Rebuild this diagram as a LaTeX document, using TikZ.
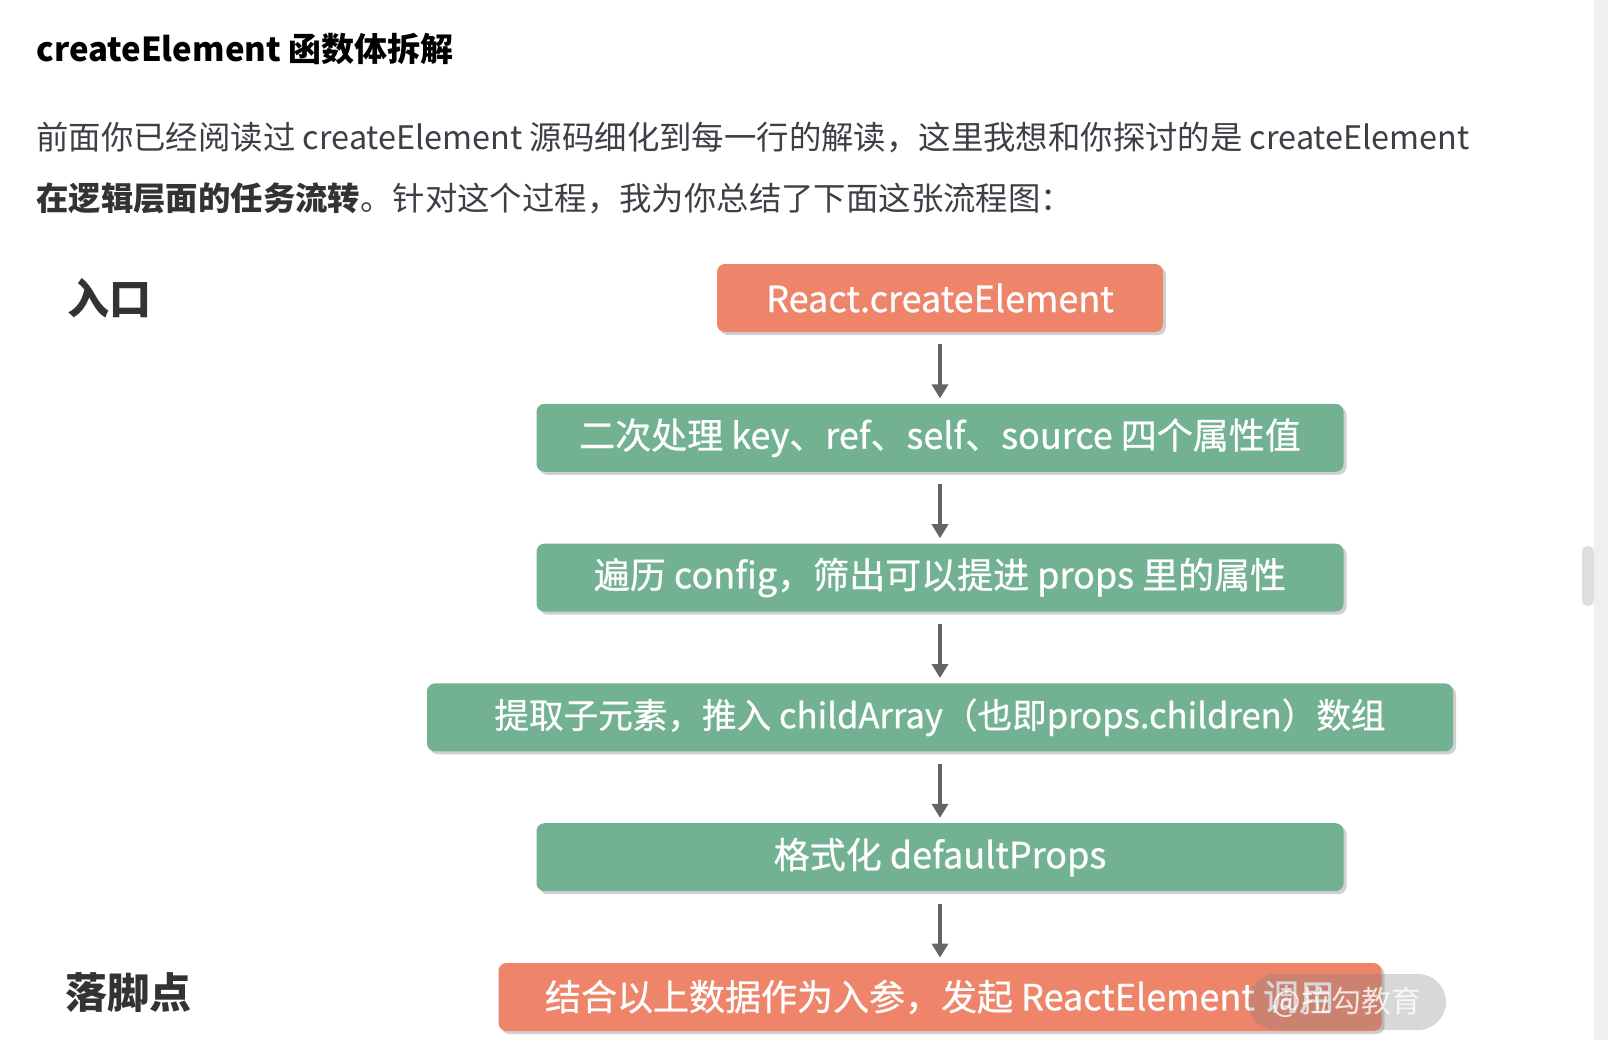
\documentclass[tikz,border=0pt]{standalone}
\usepackage{fontspec}
\setmainfont{Noto Sans CJK SC}
\newfontfamily\boxfont[FakeBold=0.7]{Noto Sans CJK SC}
\usepackage{tikz}
\usetikzlibrary{arrows.meta, positioning, shadows}
\definecolor{boxred}{RGB}{238,132,106}
\definecolor{boxgreen}{RGB}{114,178,146}
\definecolor{arrowgray}{RGB}{100,100,100}
\definecolor{textdark}{RGB}{51,51,51}
\definecolor{paratext}{RGB}{60,64,70}
\definecolor{bargray}{RGB}{239,239,239}
\definecolor{thumbgray}{RGB}{222,222,222}
\tikzset{
  block/.style={rectangle, fill=boxgreen, text=white,
    minimum height=34pt, inner sep=0pt, rounded corners=4pt,
    font=\boxfont\fontsize{18}{20}\selectfont,
    drop shadow={shadow xshift=1.5pt, shadow yshift=-1.5pt, opacity=0.3, fill=black!60}},
  redblock/.style={block, fill=boxred},
  arrow/.style={-{Triangle[width=8pt,length=7pt]}, line width=2pt,
    color=arrowgray, shorten <=6pt, shorten >=2.5pt},
  sidelabel/.style={anchor=west, inner sep=0pt,
    font=\fontsize{21}{24}\selectfont\bfseries, text=textdark},
  paraline/.style={anchor=west, inner sep=0pt,
    font=\fontsize{16.2}{18}\selectfont, text=paratext},
  watermark/.style={rectangle, rounded corners=14pt, fill=black!50,
    fill opacity=0.3, text=white, text opacity=0.8,
    minimum width=99pt, minimum height=28pt, inner sep=0pt,
    font=\fontsize{15}{16}\selectfont}
}

\begin{document}
\begin{tikzpicture}[x=0.5pt, y=-0.5pt]
  % page
  \fill[white] (0,0) rectangle (1608,1040);
  \useasboundingbox (0,0) rectangle (1608,1040);

  % heading and text
  \node[anchor=west, inner sep=0pt, font=\fontsize{16.5}{18}\selectfont\bfseries] (title) at (36,49) {createElement 函数体拆解};
  \node[paraline] (para1) at (36,138) {前面你已经阅读过 createElement 源码细化到每一行的解读，这里我想和你探讨的是 createElement};
  \node[paraline] (para2) at (36,198) {{\bfseries\color{textdark}在逻辑层面的任务流转}。针对这个过程，我为你总结了下面这张流程图：};

  % flow
  \node[redblock, minimum width=223pt] (create) at (940,298) {React.createElement};
  \node[block, minimum width=403.5pt, below=35.5pt of create] (keys) {二次处理 key、ref、self、source 四个属性值};
  \node[block, minimum width=403.5pt, below=35.5pt of keys] (config) {遍历 config，筛出可以提进 props 里的属性};
  \node[block, minimum width=513pt, below=35.5pt of config, font=\boxfont\fontsize{17.3}{20}\selectfont] (children) {提取子元素，推入 childArray（也即props.children）数组};
  \node[block, minimum width=403.5pt, below=35.5pt of children] (defaults) {格式化 defaultProps};
  \node[redblock, minimum width=441.5pt, below=35.5pt of defaults] (call) {结合以上数据作为入参，发起 ReactElement 调用};

  \draw[arrow] (create) -- (keys);
  \draw[arrow] (keys) -- (config);
  \draw[arrow] (config) -- (children);
  \draw[arrow] (children) -- (defaults);
  \draw[arrow] (defaults) -- (call);

  % side labels
  \node[sidelabel] (entry) at (67,298) {入口};
  \node[sidelabel] (landing) at (65,993) {落脚点};

  % watermark
  \node[watermark] (mark) at (1347,1002) {@拉勾教育};

  % scrollbar
  \fill[bargray] (1594,0) rectangle (1608,1040);
  \fill[thumbgray, rounded corners=2.75pt] (1582,546) rectangle (1594,606);
\end{tikzpicture}
\end{document}
